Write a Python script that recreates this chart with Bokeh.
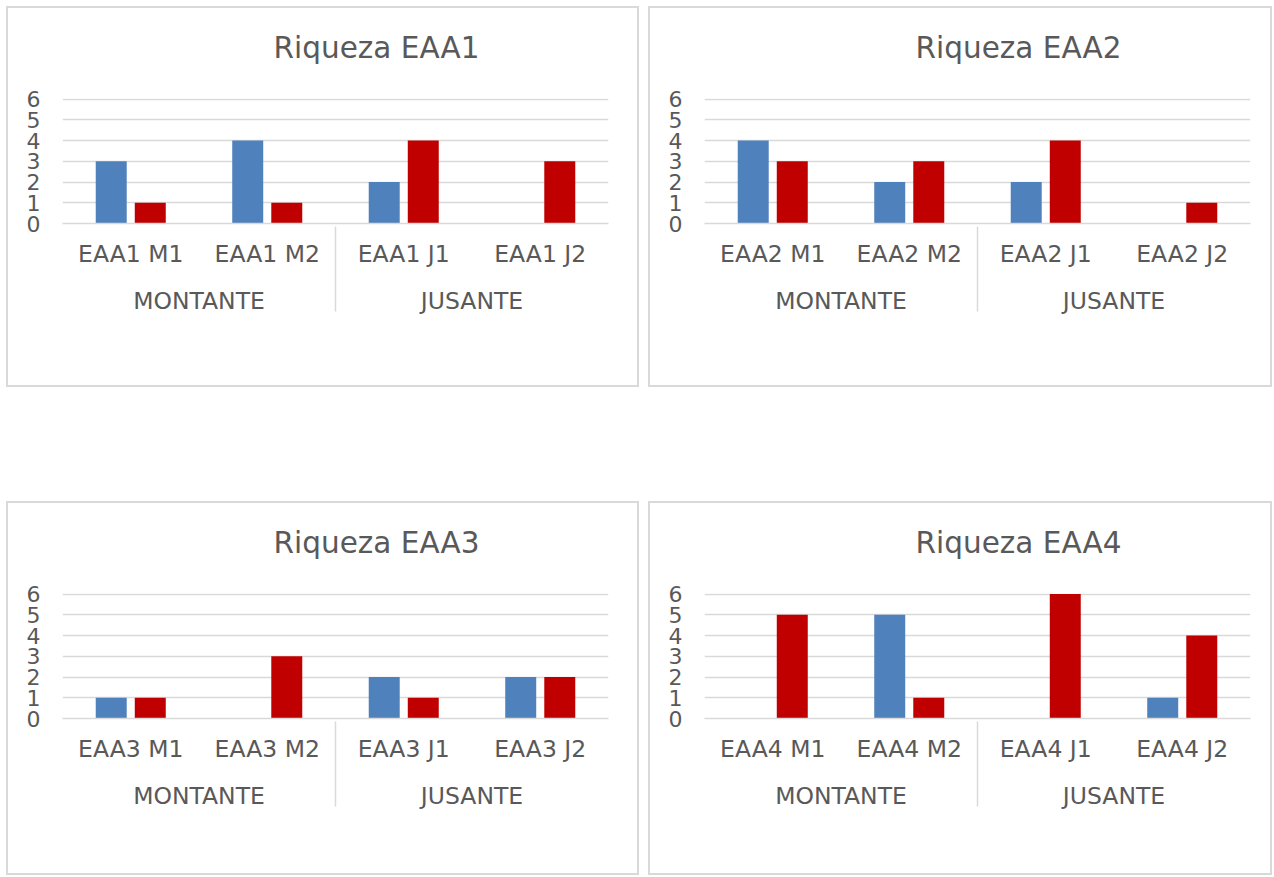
from bokeh.plotting import figure
from bokeh.models import (FactorRange, Range1d, FixedTicker, Legend, LegendItem,
                          ColumnDataSource, Label, Spacer)
from bokeh.transform import dodge
from bokeh.layouts import row, column
from bokeh.embed import file_html
from bokeh.resources import INLINE

# ---------------- data ----------------
groups = ["MONTANTE", "MONTANTE", "JUSANTE", "JUSANTE"]
series_names = ["abr/21", "ago/21"]
y_ticks = [0, 1, 2, 3, 4, 5, 6]

titles = ["Riqueza EAA1", "Riqueza EAA2", "Riqueza EAA3", "Riqueza EAA4"]
sites_eaa1 = ["EAA1 M1", "EAA1 M2", "EAA1 J1", "EAA1 J2"]
sites_eaa2 = ["EAA2 M1", "EAA2 M2", "EAA2 J1", "EAA2 J2"]
sites_eaa3 = ["EAA3 M1", "EAA3 M2", "EAA3 J1", "EAA3 J2"]
sites_eaa4 = ["EAA4 M1", "EAA4 M2", "EAA4 J1", "EAA4 J2"]

eaa1_abr = [3, 4, 2, 0]
eaa1_ago = [1, 1, 4, 3]
eaa2_abr = [4, 2, 2, 0]
eaa2_ago = [3, 3, 4, 1]
eaa3_abr = [1, 0, 2, 2]
eaa3_ago = [1, 3, 1, 2]
eaa4_abr = [0, 5, 0, 1]
eaa4_ago = [5, 1, 6, 4]

# ---------------- style ----------------
FONT = "DejaVu Sans"
TXT = "#595959"
GRID = "#d9d9d9"
BLUE = "#4f81bd"
RED = "#c00000"
FRAME_W, FRAME_H = 546, 125
LEFT_B = 54
TITLE_H = 70
MAIN_TOP, MAIN_BOTTOM = 20, 105


def bare_fig(w, h):
    f = figure(x_range=Range1d(0, w), y_range=Range1d(0, h),
               frame_width=w, frame_height=h, min_border=0,
               x_axis_location=None, y_axis_location=None, title=None,
               output_backend="svg", toolbar_location=None)
    f.outline_line_color = None
    f.border_fill_color = "white"
    f.background_fill_color = "white"
    f.grid.visible = False
    return f


def make_panel(title, sites, abr, ago, width, height):
    right_border = width - LEFT_B - FRAME_W
    legend_h = height - TITLE_H - (MAIN_TOP + FRAME_H + MAIN_BOTTOM)

    # ---- title strip ----
    tf = bare_fig(width, TITLE_H)
    tf.add_layout(Label(x=314, y=TITLE_H - 39, text=title, text_align="center",
                        text_baseline="middle", text_font=FONT,
                        text_font_size="29.5px", text_color=TXT))

    # ---- chart ----
    factors = list(zip(groups, sites))
    xr = FactorRange(*factors, factor_padding=0, group_padding=0,
                     subgroup_padding=0, range_padding=0)
    p = figure(x_range=xr, y_range=Range1d(0, 6.03), title=None,
               frame_width=FRAME_W, frame_height=FRAME_H,
               min_border_left=LEFT_B, min_border_right=right_border,
               min_border_top=MAIN_TOP, min_border_bottom=MAIN_BOTTOM,
               output_backend="svg", toolbar_location=None)
    p.outline_line_color = None
    p.border_fill_color = "white"
    p.background_fill_color = "white"

    ya = p.yaxis[0]
    ya.ticker = FixedTicker(ticks=y_ticks)
    ya.axis_line_color = None
    ya.major_tick_line_color = None
    ya.minor_tick_line_color = None
    ya.major_tick_out = 0
    ya.major_tick_in = 0
    ya.major_label_standoff = 22
    ya.major_label_text_font = FONT
    ya.major_label_text_font_size = "22px"
    ya.major_label_text_color = TXT

    p.xgrid.visible = False
    p.ygrid.ticker = FixedTicker(ticks=y_ticks)
    p.ygrid.grid_line_color = GRID
    p.ygrid.grid_line_width = 1.5

    xa = p.xaxis[0]
    xa.axis_line_color = GRID
    xa.axis_line_width = 1.5
    xa.major_tick_line_color = None
    xa.major_tick_out = 0
    xa.major_tick_in = 0
    xa.separator_line_color = GRID
    xa.separator_line_width = 1.5
    xa.major_label_standoff = 16
    xa.major_label_text_font = FONT
    xa.major_label_text_font_size = "23.5px"
    xa.major_label_text_color = TXT
    xa.group_text_font = FONT
    xa.group_text_font_size = "23.5px"
    xa.group_text_font_style = "normal"
    xa.group_text_color = TXT

    src = ColumnDataSource(dict(x=factors, abr=abr, ago=ago))
    p.vbar(x=dodge("x", -0.143, range=p.x_range), top="abr", width=0.227,
           source=src, fill_color=BLUE, line_color=None)
    p.vbar(x=dodge("x", 0.143, range=p.x_range), top="ago", width=0.227,
           source=src, fill_color=RED, line_color=None)

    # ---- legend strip ----
    lf = bare_fig(width, legend_h)
    k1 = lf.vbar(x=[], top=[], width=1, fill_color=BLUE, line_color=None)
    k2 = lf.vbar(x=[], top=[], width=1, fill_color=RED, line_color=None)
    legend = Legend(items=[LegendItem(label=series_names[0], renderers=[k1]),
                           LegendItem(label=series_names[1], renderers=[k2])],
                    orientation="horizontal", location=(210, legend_h - 11 - 27),
                    glyph_width=13, glyph_height=13, label_standoff=5,
                    spacing=22, padding=0, margin=0,
                    border_line_color=None, background_fill_alpha=0,
                    label_text_font=FONT, label_text_font_size="23.5px",
                    label_text_color=TXT)
    lf.add_layout(legend, "center")

    return column(tf, p, lf, styles={"outline": "2px solid #d9d9d9"})


c1 = make_panel(titles[0], sites_eaa1, eaa1_abr, eaa1_ago, 629, 377)
c2 = make_panel(titles[1], sites_eaa2, eaa2_abr, eaa2_ago, 620, 377)
c3 = make_panel(titles[2], sites_eaa3, eaa3_abr, eaa3_ago, 629, 370)
c4 = make_panel(titles[3], sites_eaa4, eaa4_abr, eaa4_ago, 620, 370)

layout = column(
    Spacer(height=8),
    row(Spacer(width=8), c1, Spacer(width=13), c2),
    Spacer(height=118),
    row(Spacer(width=8), c3, Spacer(width=13), c4),
)

open("out.html", "w").write(file_html(layout, INLINE))
